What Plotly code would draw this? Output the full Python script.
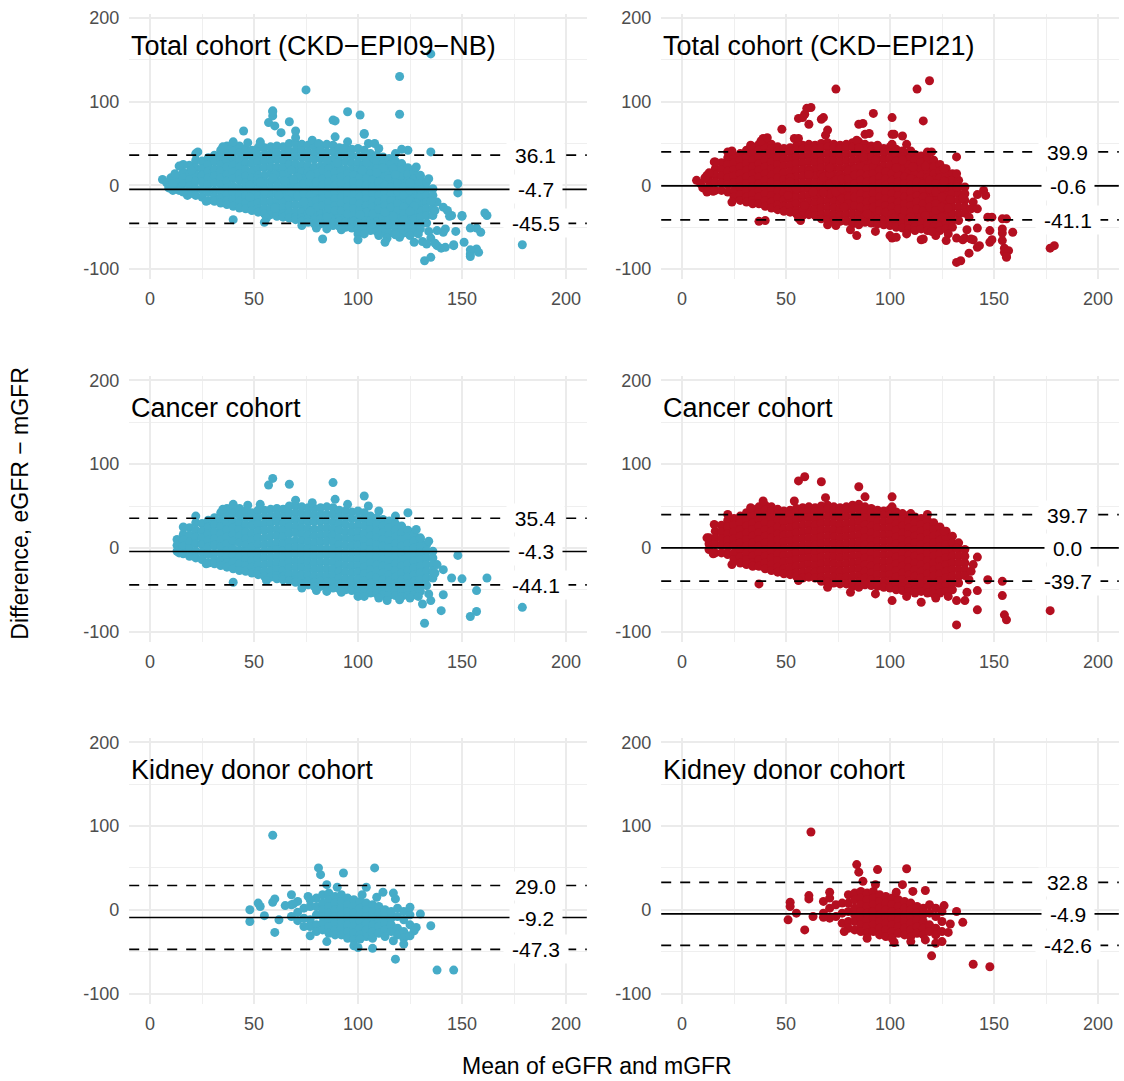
import plotly.graph_objects as go

BLUE = "#46ACC8"
RED = "#B40F20"

# ---------------- data ----------------
# Dense cores written as {mean of eGFR & mGFR: [differences ...]}
can09_core = {
    13: [10, 3, -4], 16: [16, 9, 2, -7], 19: [24, 15, 7, -1, -10],
    22: [30, 21, 13, 5, -4, -12], 25: [29, 20, 12, 4, -5, -14],
    28: [33, 25, 17, 9, 1, -8, -18], 31: [36, 28, 19, 11, 3, -6, -14, -19],
    34: [42, 33, 25, 17, 9, 1, -7, -15, -21], 37: [47, 38, 30, 22, 13, 5, -3, -11, -18, -23],
    40: [49, 41, 32, 24, 16, 8, -1, -9, -17, -25], 43: [47, 39, 30, 22, 14, 6, -3, -11, -19, -27],
    46: [44, 36, 27, 19, 11, 3, -5, -13, -21, -28], 49: [42, 34, 26, 17, 9, 1, -7, -15, -23, -30],
    52: [45, 36, 28, 20, 12, 4, -5, -13, -21, -28, -32], 55: [45, 37, 29, 21, 12, 4, -4, -12, -20, -28, -34],
    58: [46, 38, 30, 22, 14, 5, -3, -11, -19, -27, -35], 61: [47, 39, 31, 22, 14, 6, -2, -10, -18, -26, -33, -37],
    64: [46, 37, 29, 21, 13, 5, -3, -11, -19, -27, -34, -38], 67: [50, 41, 33, 25, 17, 8, 0, -8, -16, -24, -32, -39],
    70: [50, 42, 34, 26, 18, 9, 1, -7, -15, -23, -31, -38, -41], 73: [49, 41, 33, 24, 16, 8, 0, -8, -16, -24, -32, -39, -43],
    76: [48, 40, 31, 23, 15, 7, -1, -9, -17, -25, -33, -40, -44], 79: [47, 39, 31, 22, 14, 6, -2, -10, -18, -26, -34, -41, -46],
    82: [48, 40, 32, 23, 15, 7, -1, -9, -17, -25, -33, -40, -46], 85: [49, 40, 32, 24, 16, 8, -1, -9, -17, -25, -33, -41, -47],
    88: [48, 40, 31, 23, 15, 7, -1, -9, -17, -25, -33, -41, -48], 91: [45, 37, 29, 21, 12, 4, -4, -12, -20, -28, -36, -43, -49],
    94: [44, 36, 28, 19, 11, 3, -5, -13, -21, -29, -37, -44, -50], 97: [43, 35, 26, 18, 10, 2, -6, -14, -22, -30, -38, -45, -51],
    100: [44, 35, 27, 19, 11, 3, -5, -13, -21, -29, -37, -45, -53], 103: [42, 34, 26, 17, 9, 1, -7, -15, -23, -31, -39, -47, -54],
    106: [38, 30, 22, 14, 6, -2, -10, -18, -26, -34, -42, -49, -54], 109: [36, 28, 20, 12, 4, -4, -12, -20, -28, -36, -44, -50, -55],
    112: [34, 26, 18, 10, 2, -6, -14, -22, -30, -38, -46, -52, -56], 115: [32, 24, 16, 8, 0, -8, -16, -24, -32, -40, -48, -57],
    118: [29, 21, 13, 5, -3, -11, -19, -27, -35, -43, -51, -57], 121: [26, 18, 10, 2, -6, -14, -22, -30, -38, -46, -53, -58],
    124: [21, 13, 5, -3, -11, -19, -27, -35, -43, -51, -57], 127: [16, 8, 0, -8, -16, -24, -32, -40, -48, -56],
    130: [10, 2, -6, -14, -22, -30, -38, -46, -52], 133: [4, -4, -12, -20, -28, -36, -45],
    136: [-4, -12, -20, -28, -36],
}
can09_edge = [(57, 75), (59, 83), (67, 76), (88, 78), (89, 58), (103, 62), (105, 50), (124, 42), (128, 22),
              (22, 38), (16, 25), (40, 52), (53, 52), (148, -9), (150, -37), (145, -36), (141, -26), (141, -56),
              (140, -75), (157, -51), (157, -76), (154, -82), (162, -36), (179, -71), (132, -90), (131, -67),
              (135, -63), (114, -63), (100, -58), (103, -58), (73, -48), (80, -51), (40, -41), (27, -19),
              (14, -6), (138, -20), (137, -30), (134, -55), (120, -62), (125, -60), (129, -58), (110, -60),
              (92, -53), (85, -52), (56, -39), (130, 12), (134, 8), (110, 44), (95, 52), (78, 54), (70, 57),
              (47, 51), (35, 46), (118, 38)]

can21_core = {
    13: [12, 5, -2], 16: [20, 12, 4, -6], 19: [27, 19, 11, 3, -6], 22: [33, 25, 17, 9, 1, -8],
    25: [35, 27, 19, 11, 3, -6, -14], 28: [38, 30, 22, 14, 6, -2, -11, -18],
    31: [42, 34, 26, 18, 10, 2, -6, -14, -20], 34: [46, 38, 30, 22, 14, 6, -2, -10, -18, -22],
    37: [49, 42, 34, 26, 18, 10, 2, -6, -14, -22], 40: [51, 45, 38, 30, 22, 14, 6, -2, -10, -18, -25],
    43: [49, 44, 36, 28, 20, 12, 4, -4, -12, -20, -27], 46: [46, 41, 33, 25, 17, 9, 1, -7, -15, -23, -29],
    49: [44, 39, 31, 23, 15, 7, -1, -9, -17, -25, -31], 52: [45, 40, 32, 24, 16, 8, 0, -8, -16, -24, -32],
    55: [47, 42, 34, 26, 18, 10, 2, -6, -14, -22, -30, -34], 58: [48, 43, 35, 27, 19, 11, 3, -5, -13, -21, -29, -36],
    61: [49, 44, 36, 28, 20, 12, 4, -4, -12, -20, -28, -35], 64: [48, 43, 35, 27, 19, 11, 3, -5, -13, -21, -29, -36],
    67: [50, 45, 37, 29, 21, 13, 5, -3, -11, -19, -27, -35, -40], 70: [51, 46, 38, 30, 22, 14, 6, -2, -10, -18, -26, -34, -41],
    73: [49, 45, 37, 29, 21, 13, 5, -3, -11, -19, -27, -35, -42], 76: [48, 44, 36, 28, 20, 12, 4, -4, -12, -20, -28, -36, -43],
    79: [49, 45, 37, 29, 21, 13, 5, -3, -11, -19, -27, -35, -43],
    82: [51, 46, 38, 30, 22, 14, 6, -2, -10, -18, -26, -34, -42, -46],
    85: [52, 47, 39, 31, 23, 15, 7, -1, -9, -17, -25, -33, -41, -47],
    88: [49, 44, 36, 28, 20, 12, 4, -4, -12, -20, -28, -36, -44], 91: [47, 42, 34, 26, 18, 10, 2, -6, -14, -22, -30, -38, -45],
    94: [45, 40, 32, 24, 16, 8, 0, -8, -16, -24, -32, -40, -46], 97: [44, 39, 31, 23, 15, 7, -1, -9, -17, -25, -33, -41, -47],
    100: [46, 40, 32, 24, 16, 8, 0, -8, -16, -24, -32, -40, -48], 103: [43, 37, 29, 21, 13, 5, -3, -11, -19, -27, -35, -43, -50],
    106: [41, 34, 26, 18, 10, 2, -6, -14, -22, -30, -38, -46, -51], 109: [39, 32, 24, 16, 8, 0, -8, -16, -24, -32, -40, -48, -52],
    112: [37, 30, 22, 14, 6, -2, -10, -18, -26, -34, -42, -50, -54], 115: [35, 28, 20, 12, 4, -4, -12, -20, -28, -36, -44, -52],
    118: [33, 25, 17, 9, 1, -7, -15, -23, -31, -39, -47, -54], 121: [30, 22, 14, 6, -2, -10, -18, -26, -34, -42, -50, -55],
    124: [25, 17, 9, 1, -7, -15, -23, -31, -39, -47, -54], 127: [20, 12, 4, -4, -12, -20, -28, -36, -44, -52],
    130: [14, 6, -2, -10, -18, -26, -34, -42, -50], 133: [6, -2, -10, -18, -26, -34, -42],
    136: [-2, -10, -18, -26, -33],
}
can21_edge = [(12, 12), (15, -7), (15.5, 28), (22, 40), (33, 48), (39, 56), (54, 56), (56, 80), (59, 85),
              (67, 79), (69, 60), (85, 73), (88, 61), (101, 61), (101, 49), (110, 41), (118, 40), (126, 20),
              (132, 0), (142, -11), (139, -28), (147, -38), (154, -40), (154, -57), (155, -80), (156, -86),
              (142, -51), (142, -74), (132, -63), (132, -92), (177, -75), (137, -53), (136, -63), (101, -63),
              (115, -65), (81, -53), (70, -47), (56, -39), (37, -43), (24, -20), (140, -20), (138, -38),
              (128, -58), (122, -60), (108, -58), (93, -55)]

kid09_core = {
    68: [6, -8], 71: [10, -3, -13], 74: [2, -10], 77: [4, -12, -20],
    80: [14, 4, -6, -18, -26], 83: [18, 8, 0, -8, -16, -24], 86: [20, 12, 4, -4, -12, -20, -28],
    89: [16, 8, 0, -8, -16, -24, -30], 92: [18, 10, 2, -6, -14, -22, -30], 95: [14, 6, -2, -10, -18, -26, -34],
    98: [12, 4, -4, -12, -20, -28, -36], 101: [10, 2, -6, -14, -22, -30], 104: [8, 0, -8, -16, -24, -32],
    107: [6, -2, -10, -18, -26, -34], 110: [4, -4, -12, -20, -28], 113: [0, -8, -16, -24, -32],
    116: [-2, -10, -18, -26], 119: [2, -8, -22, -30], 122: [-2, -12, -26, -34], 125: [-6, -18],
}
kid09_edge = [(59, 89), (81, 50), (82, 42), (93, 44), (108, 50), (85, 30), (104, 27), (90, 27), (68, 18),
              (60, 13), (59, 9), (52, 8), (53, 4), (48, 0), (48, -14), (55, -7), (60, -27), (62, -12),
              (65, 5), (69, 7), (74, -20), (77, -31), (85, -38), (76, 16), (77, 12), (98, -43), (100, -45),
              (107, -46), (101, -35), (118, -59), (138, -72), (146, -72), (135, -19), (130, -5), (125, 3),
              (128, -21), (127, -25), (125, -31), (122, -41), (117, -37), (117, 20), (118, 13), (112, 21),
              (109, 15), (102, 18)]

kid21_core = {
    68: [10, -4], 71: [14, 2, -10], 74: [6, -8], 77: [8, -4, -16],
    80: [18, 8, -2, -14, -22], 83: [20, 12, 2, -6, -14, -24], 86: [22, 14, 6, -2, -10, -18, -26],
    89: [20, 12, 4, -4, -12, -20, -28], 92: [22, 14, 6, -2, -10, -18, -26], 95: [18, 10, 2, -6, -14, -22, -30],
    98: [16, 8, 0, -8, -16, -24, -32], 101: [14, 6, -2, -10, -18, -26, -34], 104: [12, 4, -4, -12, -20, -28],
    107: [10, 2, -6, -14, -22, -30], 110: [8, 0, -8, -16, -24, -32], 113: [4, -4, -12, -20, -28],
    116: [2, -6, -14, -22, -30], 119: [6, -4, -18, -26], 122: [2, -8, -22, -30], 125: [-2, -14, -26],
}
kid21_edge = [(62, 93), (84, 54), (85, 45), (94, 48), (108, 49), (87, 34), (93, 30), (106, 30), (117, 23),
              (111, 22), (103, 21), (71, 21), (61, 17), (61, 13), (52, 9), (52, 4), (55, -4), (51, -12),
              (59, -24), (63, -8), (68, -9), (78, -26), (89, -34), (102, -39), (110, -38), (117, -36),
              (122, -40), (125, -38), (120, -55), (140, -65), (148, -68), (135, -15), (132, -2), (126, 5),
              (129, -17), (128, -27)]

# points of the total cohort that belong to neither sub-cohort
oth09 = [(6, 7), (8, 3), (9, -3), (10, 9), (11, -6), (12, 14), (11, 2), (14, 23), (23, 40), (135, 157),
         (120, 130), (75, 114), (120, 85), (95, 88), (101, 84), (59, 88), (60, 71), (45, 65), (70, 65),
         (63, 63), (89, 77), (103, 61), (135, 40), (121, 43), (161, -33), (148, 2), (150, -36), (154, -51),
         (159, -56), (151, -68), (154, -77), (154, -85), (158, -80), (146, -71), (142, -74), (142, -52),
         (138, -54), (147, -55), (135, -86), (133, -70), (137, -69), (143, -30), (144, -37), (55, -44),
         (83, -64), (100, -65), (113, -68), (127, -68), (53, 50), (18, -12), (16, -8), (20, 18)]
oth21 = [(7, 6), (9, 2), (10, -3), (11, 9), (12, -8), (13, 15), (16, 28), (24, 41), (74, 115), (113, 115),
         (119, 125), (116, 77), (60, 92), (58, 81), (61, 73), (68, 81), (92, 86), (101, 81), (87, 74),
         (90, 62), (48, 67), (56, 56), (70, 66), (102, 61), (106, 59), (120, 40), (132, 34), (132, 14),
         (145, -6), (146, -12), (142, -28), (149, -38), (156, -40), (154, -52), (159, -56), (148, -54),
         (149, -65), (154, -66), (155, -75), (157, -78), (156, -85), (143, -72), (138, -81), (134, -90),
         (135, -65), (139, -64), (179, -72), (40, -42), (57, -42), (74, -48), (84, -60), (100, -60),
         (103, -62), (116, -64), (127, -66), (38, 53), (41, 57)]

# bias and limits of agreement (upper, mean, lower)
loa_tot09 = [36.1, -4.7, -45.5]
loa_tot21 = [39.9, -0.6, -41.1]
loa_can09 = [35.4, -4.3, -44.1]
loa_can21 = [39.7, 0.0, -39.7]
loa_kid09 = [29.0, -9.2, -47.3]
loa_kid21 = [32.8, -4.9, -42.6]

titles = ["Total cohort (CKD\u2212EPI09\u2212NB)", "Total cohort (CKD\u2212EPI21)",
          "Cancer cohort", "Cancer cohort", "Kidney donor cohort", "Kidney donor cohort"]

x_ticks = [0, 50, 100, 150, 200]
y_ticks = [-100, 0, 100, 200]


def expand(core, edge):
    xs, ys = [], []
    for k, vals in core.items():
        for v in vals:
            xs.append(k)
            ys.append(v)
    for a, b in edge:
        xs.append(a)
        ys.append(b)
    return xs, ys


can09 = expand(can09_core, can09_edge)
can21 = expand(can21_core, can21_edge)
kid09 = expand(kid09_core, kid09_edge)
kid21 = expand(kid21_core, kid21_edge)
oth09x, oth09y = [p[0] for p in oth09], [p[1] for p in oth09]
oth21x, oth21y = [p[0] for p in oth21], [p[1] for p in oth21]
tot09 = (can09[0] + kid09[0] + oth09x, can09[1] + kid09[1] + oth09y)
tot21 = (can21[0] + kid21[0] + oth21x, can21[1] + kid21[1] + oth21y)

panels = [
    (tot09, BLUE, loa_tot09), (tot21, RED, loa_tot21),
    (can09, BLUE, loa_can09), (can21, RED, loa_can21),
    (kid09, BLUE, loa_kid09), (kid21, RED, loa_kid21),
]

# ---------------- layout ----------------
W, H = 1124, 1081
col_dom = [[129.2 / W, 586.8 / W], [661.2 / W, 1118.8 / W]]
row_px = [(8.8, 275.4), (373.0, 639.6), (736.6, 1003.2)]
row_dom = [[1 - b / H, 1 - t / H] for t, b in row_px]

FONT = "Liberation Sans, Arial, Helvetica, sans-serif"
GRID = "#EBEBEB"
MINOR = "#EFEFEF"
LBL_SIZE = 21
CHAR_W = {"-": 0.333, ".": 0.278}


def label_width(s):
    # approximate rendered width of a label in px (Arial metrics) plus side padding
    return sum(CHAR_W.get(ch, 0.556) for ch in s) * LBL_SIZE + 14


fig = go.Figure()
layout = dict(width=W, height=H, margin=dict(l=0, r=0, t=0, b=0),
              paper_bgcolor="white", plot_bgcolor="white", showlegend=False,
              font=dict(family=FONT, color="black"))
shapes, annotations = [], []

for i, ((xs, ys), color, loa) in enumerate(panels):
    n = i + 1
    r, c = divmod(i, 2)
    xa = "x" if n == 1 else f"x{n}"
    ya = "y" if n == 1 else f"y{n}"
    fig.add_trace(go.Scatter(x=xs, y=ys, mode="markers", xaxis=xa, yaxis=ya,
                             marker=dict(color=color, size=9, line=dict(width=0)),
                             hoverinfo="skip"))
    key = "" if n == 1 else str(n)
    layout["xaxis" + key] = dict(domain=col_dom[c], anchor=ya, range=[-10, 210],
                                 tickvals=x_ticks, ticktext=[str(t) for t in x_ticks],
                                 showgrid=True, gridcolor=GRID, gridwidth=1.5, zeroline=False,
                                 showline=False, ticks="", ticklabelstandoff=7,
                                 tickfont=dict(size=18, color="#4D4D4D", family=FONT),
                                 minor=dict(tickvals=[25, 75, 125, 175], showgrid=True,
                                            gridcolor=MINOR, gridwidth=1),
                                 fixedrange=True)
    layout["yaxis" + key] = dict(domain=row_dom[r], anchor=xa, range=[-112, 205],
                                 tickvals=y_ticks, ticktext=[str(t) for t in y_ticks],
                                 showgrid=True, gridcolor=GRID, gridwidth=1.5, zeroline=False,
                                 showline=False, ticks="", ticklabelstandoff=9,
                                 tickfont=dict(size=18, color="#4D4D4D", family=FONT),
                                 minor=dict(tickvals=[-50, 50, 150], showgrid=True,
                                            gridcolor=MINOR, gridwidth=1),
                                 fixedrange=True)
    for j, v in enumerate(loa):
        shapes.append(dict(type="line", xref=f"{xa} domain", yref=ya, x0=0, x1=1, y0=v, y1=v,
                           line=dict(color="black", width=1.7,
                                     dash="solid" if j == 1 else "10px,9px"),
                           layer="above"))
        txt = f"{v:.1f}"
        annotations.append(dict(x=185.5, y=v, xref=xa, yref=ya, text=txt, showarrow=False,
                                xanchor="center", yanchor="middle", bgcolor="white", borderpad=1,
                                width=label_width(txt), height=26, align="center",
                                font=dict(size=LBL_SIZE, color="black", family=FONT)))
    annotations.append(dict(x=-10, y=167, xref=xa, yref=ya, text=titles[i], showarrow=False,
                            xanchor="left", yanchor="middle",
                            font=dict(size=27, color="black", family=FONT)))

annotations.append(dict(x=20 / W, y=1 - 501 / H, xref="paper", yref="paper",
                        text="Difference, eGFR \u2212 mGFR", textangle=-90, showarrow=False,
                        xanchor="center", yanchor="middle",
                        font=dict(size=23, color="black", family=FONT)))
annotations.append(dict(x=597 / W, y=1 - 1066 / H, xref="paper", yref="paper",
                        text="Mean of eGFR and mGFR", showarrow=False,
                        xanchor="center", yanchor="middle",
                        font=dict(size=23, color="black", family=FONT)))

layout["shapes"] = shapes
layout["annotations"] = annotations
fig.update_layout(**layout)
fig.write_html("out.html", config={"displayModeBar": False},
               post_script="document.body.style.margin='0';document.body.style.overflow='hidden';")
